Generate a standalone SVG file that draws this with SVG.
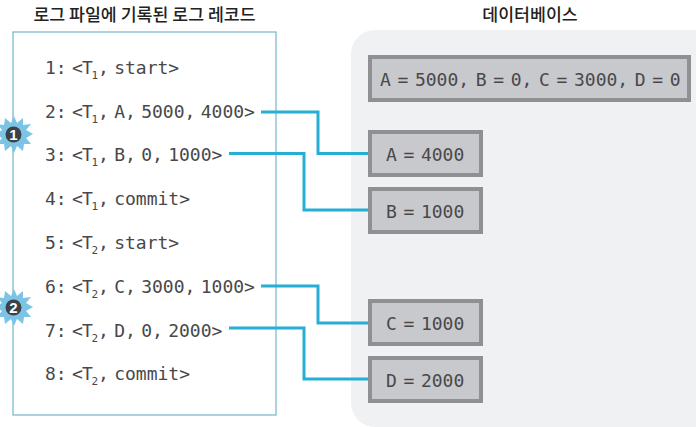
<svg xmlns="http://www.w3.org/2000/svg" width="696" height="427" viewBox="0 0 696 427">
<style>
.t{font-family:"Noto Sans CJK KR","Noto Sans",sans-serif;font-size:17.300px;font-weight:500;fill:#222;text-anchor:middle}
.m{font-family:"DejaVu Sans Mono","Liberation Mono",monospace;font-size:18px;word-spacing:-5.500px;fill:#48484a}
.d{word-spacing:-4.200px}
.s{font-size:11px}
.b{fill:#c8c9cc;stroke:#8f9094;stroke-width:4}
.c{fill:none;stroke:#27aed4;stroke-width:3}
.star{fill:#7cc4e6}
.n{font-family:"Liberation Sans",sans-serif;font-size:15px;font-weight:700;fill:#fff;text-anchor:middle}
</style>
<rect width="696" height="427" fill="#fff"/>
<path d="M696 30H375a24 24 0 0 0-24 24V403a24 24 0 0 0 24 24H696Z" fill="#f0f1f3"/>
<text class="t" x="144.500" y="20.500">로그 파일에 기록된 로그 레코드</text>
<text class="t" x="530" y="20.500">데이터베이스</text>
<rect x="13" y="32" width="263" height="383" fill="#fff" stroke="#7fbccb" stroke-width="1.3"/>
<g id="log-records">
<text class="m" y="74"><tspan x="45">1:</tspan><tspan x="72">&lt;</tspan><tspan x="82">T</tspan><tspan class="s" x="91.500" dy="5">1</tspan><tspan x="98" dy="-5">, start&gt;</tspan></text>
<text class="m" y="117.500"><tspan x="45">2:</tspan><tspan x="72">&lt;</tspan><tspan x="82">T</tspan><tspan class="s" x="91.500" dy="5">1</tspan><tspan x="98" dy="-5">, A, 5000, 4000&gt;</tspan></text>
<text class="m" y="161"><tspan x="45">3:</tspan><tspan x="72">&lt;</tspan><tspan x="82">T</tspan><tspan class="s" x="91.500" dy="5">1</tspan><tspan x="98" dy="-5">, B, 0, 1000&gt;</tspan></text>
<text class="m" y="205"><tspan x="45">4:</tspan><tspan x="72">&lt;</tspan><tspan x="82">T</tspan><tspan class="s" x="91.500" dy="5">1</tspan><tspan x="98" dy="-5">, commit&gt;</tspan></text>
<text class="m" y="249"><tspan x="45">5:</tspan><tspan x="72">&lt;</tspan><tspan x="82">T</tspan><tspan class="s" x="91.500" dy="5">2</tspan><tspan x="98" dy="-5">, start&gt;</tspan></text>
<text class="m" y="292.500"><tspan x="45">6:</tspan><tspan x="72">&lt;</tspan><tspan x="82">T</tspan><tspan class="s" x="91.500" dy="5">2</tspan><tspan x="98" dy="-5">, C, 3000, 1000&gt;</tspan></text>
<text class="m" y="336.500"><tspan x="45">7:</tspan><tspan x="72">&lt;</tspan><tspan x="82">T</tspan><tspan class="s" x="91.500" dy="5">2</tspan><tspan x="98" dy="-5">, D, 0, 2000&gt;</tspan></text>
<text class="m" y="380"><tspan x="45">8:</tspan><tspan x="72">&lt;</tspan><tspan x="82">T</tspan><tspan class="s" x="91.500" dy="5">2</tspan><tspan x="98" dy="-5">, commit&gt;</tspan></text>
</g>
<g id="connectors">
<path class="c" d="M261 112H318V153.500H368"/>
<path class="c" d="M229 153.500H304V210H368"/>
<path class="c" d="M261 286H318V323H368"/>
<path class="c" d="M229 328H304V379H368"/>
</g>
<g id="db-initial"><rect class="b" x="370" y="57" width="319" height="43"/><text class="m d" x="380" y="86">A = 5000, B = 0, C = 3000, D = 0</text></g>
<g id="db-a"><rect class="b" x="370" y="132" width="111" height="43"/><text class="m d" x="386" y="161">A = 4000</text></g>
<g id="db-b"><rect class="b" x="370" y="189" width="111" height="43"/><text class="m d" x="386" y="218">B = 1000</text></g>
<g id="db-c"><rect class="b" x="370" y="301" width="111" height="43"/><text class="m d" x="386" y="330">C = 1000</text></g>
<g id="db-d"><rect class="b" x="370" y="358" width="111" height="43"/><text class="m d" x="386" y="387">D = 2000</text></g>
<g id="badge-1">
<polygon class="star" points="14,116 17,123 23,118 23,125 31,124 26,130 33,134 26,138 31,144 24,144 23,151 17,146 14,153 11,146 5,151 4,144 -3,144 2,138 -5,134 2,130 -3,124 4,125 5,118 11,123"/>
<circle cx="13.500" cy="134.500" r="8" fill="#3d4047"/><text class="n" x="13.500" y="140">1</text>
</g>
<g id="badge-2">
<polygon class="star" points="14,289 17,296 23,291 23,298 31,297 26,303 33,307 26,311 31,317 24,317 23,324 17,319 14,326 11,319 5,324 4,317 -3,317 2,311 -5,307 2,303 -3,297 4,298 5,291 11,296"/>
<circle cx="13.500" cy="307.500" r="8" fill="#3d4047"/><text class="n" x="13.500" y="313">2</text>
</g>
</svg>
